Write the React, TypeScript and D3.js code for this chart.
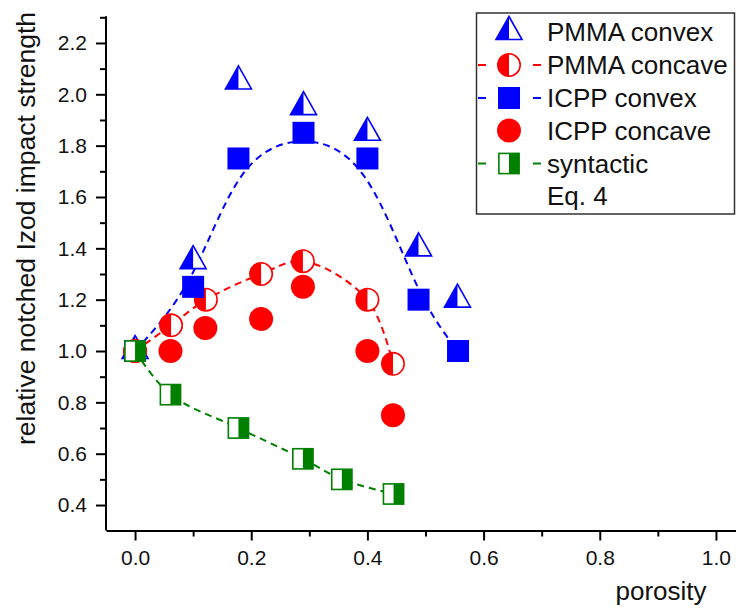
import { useEffect, useRef } from "react";
import * as d3 from "d3";

// porosity / relative notched Izod impact strength
const pmmaConvexX = [0, 0.1, 0.178, 0.29, 0.4, 0.488, 0.555];
const pmmaConvexY = [1.0, 1.35, 2.05, 1.95, 1.85, 1.4, 1.2];

const pmmaConcaveX = [0, 0.062, 0.122, 0.217, 0.289, 0.4, 0.444];
const pmmaConcaveY = [1.0, 1.1, 1.2, 1.3, 1.35, 1.2, 0.95];

const icppConvexX = [0, 0.1, 0.178, 0.29, 0.4, 0.488, 0.556];
const icppConvexY = [1.0, 1.25, 1.75, 1.85, 1.75, 1.2, 1.0];

const icppConcaveX = [0, 0.061, 0.121, 0.217, 0.289, 0.4, 0.444];
const icppConcaveY = [1.0, 1.0, 1.09, 1.125, 1.25, 1.0, 0.75];

const syntacticX = [0, 0.061, 0.178, 0.289, 0.356, 0.445];
const syntacticY = [1.0, 0.83, 0.7, 0.58, 0.5, 0.443];

const xMajorTicks = [0, 0.2, 0.4, 0.6, 0.8, 1.0];
const xMinorTicks = [0.1, 0.3, 0.5, 0.7, 0.9];
const yMajorTicks = [0.4, 0.6, 0.8, 1.0, 1.2, 1.4, 1.6, 1.8, 2.0, 2.2];
const yMinorTicks = [0.5, 0.7, 0.9, 1.1, 1.3, 1.5, 1.7, 1.9, 2.1, 2.3];

const legendLabels = ["PMMA convex", "PMMA concave", "ICPP convex", "ICPP concave", "syntactic", "Eq. 4"];

const BLUE = "#0000ff";
const RED = "#ff0000";
const GREEN = "#008000";
const FONT = "'Liberation Sans', Arial, sans-serif";

const W = 736;
const H = 608;

type G = d3.Selection<SVGGElement, unknown, null, undefined>;

function halfTriangle(g: G, cx: number, cy: number) {
    const hw = 13, top = cy - 15.5, base = cy + 7.5;
    g.append("path")
        .attr("d", `M${cx},${top}L${cx + hw},${base}L${cx - hw},${base}Z`)
        .attr("fill", "#fff")
        .attr("stroke", BLUE)
        .attr("stroke-width", 1.6)
        .attr("stroke-linejoin", "miter");
    g.append("path")
        .attr("d", `M${cx},${top}L${cx},${base}L${cx - hw},${base}Z`)
        .attr("fill", BLUE);
}

function halfCircle(g: G, cx: number, cy: number) {
    const r = 11.2;
    g.append("circle").attr("cx", cx).attr("cy", cy).attr("r", r)
        .attr("fill", "#fff").attr("stroke", RED).attr("stroke-width", 1.6);
    g.append("path")
        .attr("d", `M${cx},${cy - r}A${r},${r} 0 0 0 ${cx},${cy + r}Z`)
        .attr("fill", RED);
}

function fullSquare(g: G, cx: number, cy: number) {
    const s = 22;
    g.append("rect").attr("x", cx - s / 2).attr("y", cy - s / 2)
        .attr("width", s).attr("height", s).attr("fill", BLUE);
}

function fullCircle(g: G, cx: number, cy: number) {
    g.append("circle").attr("cx", cx).attr("cy", cy).attr("r", 12).attr("fill", RED);
}

function halfSquare(g: G, cx: number, cy: number) {
    const s = 20.2;
    g.append("rect").attr("x", cx - s / 2).attr("y", cy - s / 2)
        .attr("width", s).attr("height", s)
        .attr("fill", "#fff").attr("stroke", GREEN).attr("stroke-width", 1.6);
    g.append("rect").attr("x", cx).attr("y", cy - s / 2)
        .attr("width", s / 2).attr("height", s).attr("fill", GREEN);
}

function App() {
    const svgRef = useRef<SVGSVGElement>(null);

    useEffect(() => {
        const svgEl = svgRef.current;
        if (!svgEl) return;

        d3.select(svgEl).selectAll("*").remove();
        const svg = d3.select(svgEl);

        const xScale = d3.scaleLinear().domain([-0.05, 1.05]).range([106, 745]);
        const yScale = d3.scaleLinear().domain([0.3, 2.3]).range([530.7, 17.3]);
        const x0 = 106, y0 = 530.5;

        // axes
        const xAxis = svg.append("g").attr("transform", `translate(0,${y0})`)
            .call(d3.axisBottom(xScale).tickValues(xMajorTicks).tickSize(10).tickSizeOuter(0).tickPadding(10).tickFormat(d3.format(".1f")));
        svg.append("g").attr("transform", `translate(0,${y0})`)
            .call(d3.axisBottom(xScale).tickValues(xMinorTicks).tickSize(6).tickSizeOuter(0).tickFormat(() => ""))
            .select(".domain").remove();
        const yAxis = svg.append("g").attr("transform", `translate(${x0},0)`)
            .call(d3.axisLeft(yScale).tickValues(yMajorTicks).tickSize(10).tickSizeOuter(0).tickPadding(9).tickFormat(d3.format(".1f")));
        svg.append("g").attr("transform", `translate(${x0},0)`)
            .call(d3.axisLeft(yScale).tickValues(yMinorTicks).tickSize(6).tickSizeOuter(0).tickFormat(() => ""))
            .select(".domain").remove();

        svg.selectAll(".domain").attr("stroke", "#000").attr("stroke-width", 2);
        svg.selectAll(".tick line").attr("stroke", "#000").attr("stroke-width", 2);
        [xAxis, yAxis].forEach(a => a.selectAll("text")
            .attr("font-family", FONT).attr("font-size", 21).attr("fill", "#111"));
        // stretch the y-axis line over the full frame
        yAxis.select(".domain").attr("d", `M0,${yScale(2.3) - 1}V${y0}`);

        svg.append("text")
            .attr("transform", `translate(35,228.5) rotate(-90)`)
            .attr("text-anchor", "middle")
            .attr("font-family", FONT).attr("font-size", 26.5).attr("fill", "#111")
            .text("relative notched Izod impact strength");

        svg.append("text")
            .attr("x", 661).attr("y", 600)
            .attr("text-anchor", "middle")
            .attr("font-family", FONT).attr("font-size", 26).attr("fill", "#111")
            .text("porosity");

        // dashed curves
        const lineOf = (xs: number[], ys: number[], curve: d3.CurveFactory) =>
            d3.line<number>().x(i => xScale(xs[i])).y(i => yScale(ys[i])).curve(curve)(d3.range(xs.length));

        const lines = svg.append("g").attr("fill", "none").attr("stroke-width", 2).attr("stroke-dasharray", "7,5");
        lines.append("path").attr("d", lineOf(icppConvexX, icppConvexY, d3.curveBasis)).attr("stroke", BLUE);
        lines.append("path").attr("d", lineOf(pmmaConcaveX, pmmaConcaveY, d3.curveCatmullRom)).attr("stroke", RED);
        lines.append("path").attr("d", lineOf(syntacticX, syntacticY, d3.curveCatmullRom)).attr("stroke", GREEN);

        // markers
        const marks = svg.append("g");
        pmmaConvexX.forEach((v, i) => halfTriangle(marks, xScale(v), yScale(pmmaConvexY[i])));
        pmmaConcaveX.forEach((v, i) => halfCircle(marks, xScale(v), yScale(pmmaConcaveY[i])));
        icppConvexX.forEach((v, i) => fullSquare(marks, xScale(v), yScale(icppConvexY[i])));
        icppConcaveX.forEach((v, i) => fullCircle(marks, xScale(v), yScale(icppConcaveY[i])));
        syntacticX.forEach((v, i) => halfSquare(marks, xScale(v), yScale(syntacticY[i])));

        // legend
        const lg = svg.append("g");
        lg.append("rect").attr("x", 476.5).attr("y", 13).attr("width", 258).attr("height", 201)
            .attr("fill", "#fff").attr("stroke", "#333").attr("stroke-width", 1.5);
        const rowY = [32, 65, 98, 130.5, 163.5, 196];
        const symX = 509;
        const dashColors = [null, RED, BLUE, null, GREEN, null];
        const drawers = [halfTriangle, halfCircle, fullSquare, fullCircle, halfSquare, null];
        legendLabels.forEach((label, i) => {
            const cy = rowY[i];
            const c = dashColors[i];
            if (c) {
                [[478, 486], [533, 541]].forEach(([a, b]) => {
                    lg.append("line").attr("x1", a).attr("x2", b).attr("y1", cy).attr("y2", cy)
                        .attr("stroke", c).attr("stroke-width", 2);
                });
            }
            const draw = drawers[i];
            if (draw) draw(lg, symX, cy);
            lg.append("text")
                .attr("x", 547).attr("y", cy + 9)
                .attr("font-family", FONT).attr("font-size", 26).attr("fill", "#111")
                .text(label);
        });
    }, []);

    return (
        <div style={{ position: "absolute", left: 0, top: 0, width: W, height: H, overflow: "hidden", background: "#fff" }}>
            <svg ref={svgRef} width={W} height={H} style={{ display: "block" }} />
        </div>
    );
}

export default App;
